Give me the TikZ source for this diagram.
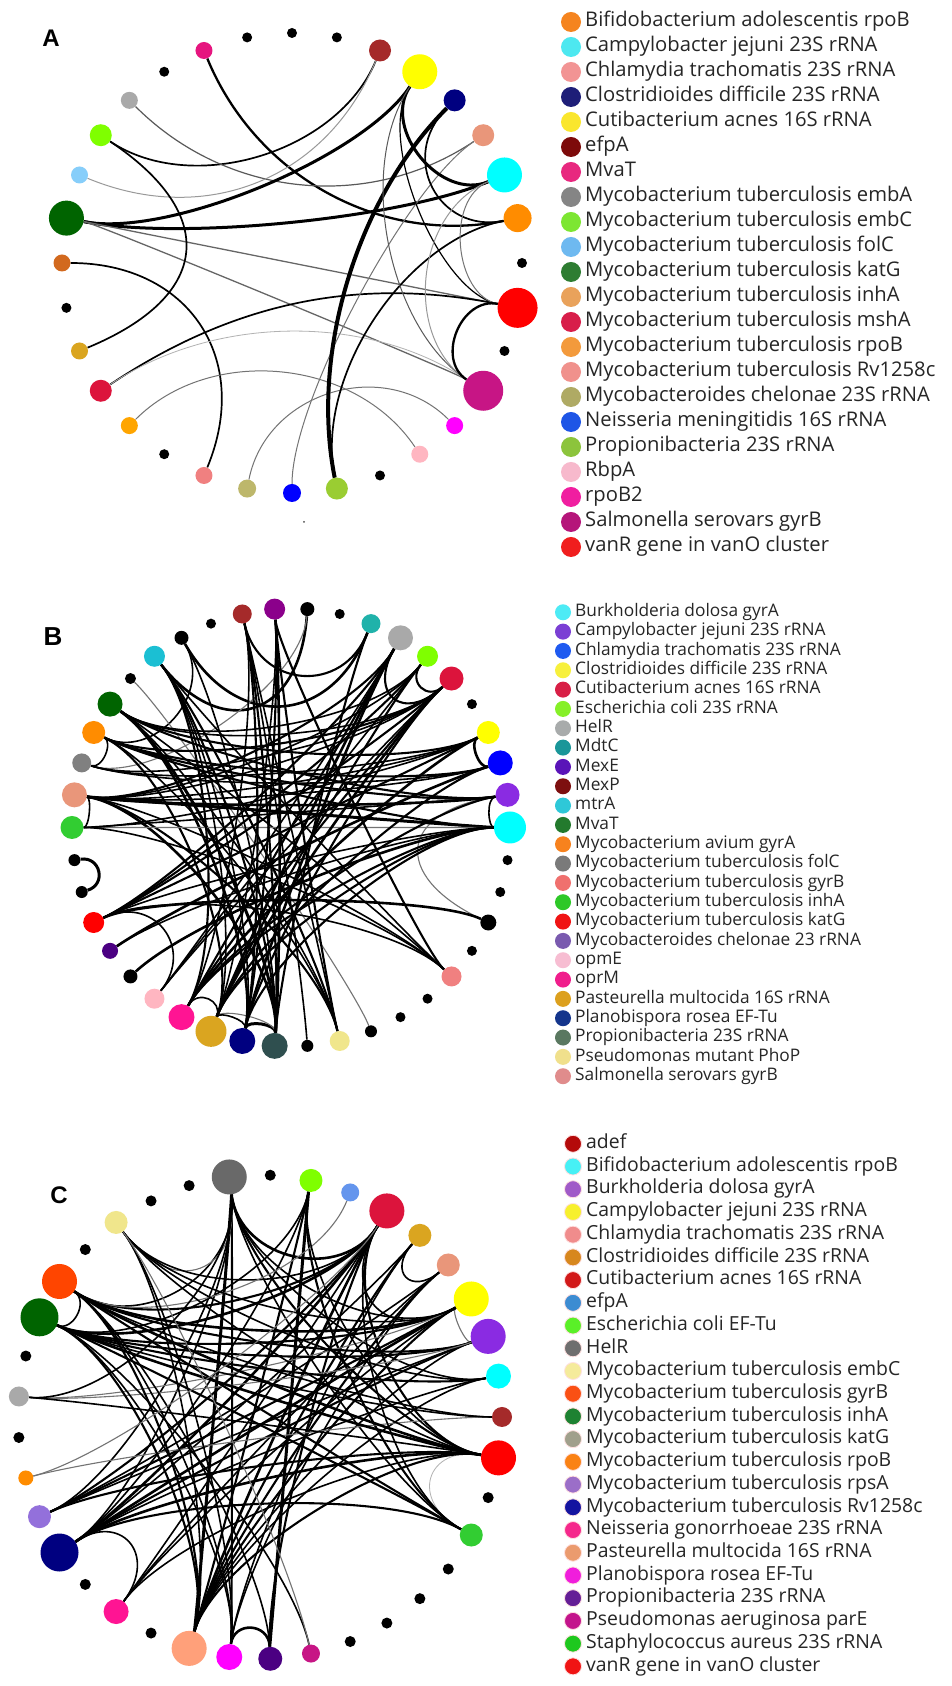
\documentclass[tikz,border=0pt]{standalone}
\usepackage{fontspec}
\newfontfamily\lgf{Open Sans}
\newfontfamily\lbf{Liberation Sans}
\usetikzlibrary{calc}
\pgfdeclarelayer{bg}
\pgfsetlayers{bg,main}
\def\ctrname{cA}
\newcommand\edg[4][0.4]{\draw[#2] (#3) .. controls ($(#3)!#1!(\ctrname)$) and ($(#4)!#1!(\ctrname)$) .. (#4);}
\begin{document}
\begin{tikzpicture}[x=1pt,y=1pt,
  bub/.style={circle,inner sep=0pt,draw=none},
  l0/.style={line width=0.8pt,black!30},
  l1/.style={line width=1pt,black!55},
  l2/.style={line width=1.2pt,black},
  l3/.style={line width=1.7pt,black},
  l4/.style={line width=2.3pt,black},
  l5/.style={line width=3pt,black},
  l6/.style={line width=4pt,black},
  lgA/.style={anchor=west,inner sep=0pt,text=black!85,text height=14pt,text depth=4pt,font=\lgf\fontsize{20.2}{24}\selectfont},
  lgB/.style={anchor=west,inner sep=0pt,text=black!85,text height=12pt,text depth=3.5pt,font=\lgf\fontsize{17.3}{20}\selectfont},
  lgC/.style={anchor=west,inner sep=0pt,text=black!85,text height=13.5pt,text depth=4pt,font=\lgf\fontsize{19.4}{22}\selectfont},
  plab/.style={inner sep=0pt,font=\lbf\bfseries\fontsize{24}{24}\selectfont}]
\useasboundingbox (0,0) rectangle (952,1686);
\begin{pgfonlayer}{bg}
\fill[white] (0,0) rectangle (952,1686);
\end{pgfonlayer}
\coordinate (cA) at (292,1423);
\coordinate (cB) at (291,858.5);
\coordinate (cC) at (260,269);
% ---------------- panel A nodes
\foreach \kk/\col/\dm in {0/000000/10,1/000000/10,2/A52A2A/22,3/FFFF00/35,4/000080/22,5/E9967A/22,6/00FFFF/35,7/FF8C00/28,8/000000/10,9/FF0000/40,10/000000/10,11/C71585/40,12/FF00FF/17,13/FFB6C1/17,14/000000/10,15/9ACD32/22,16/0000FF/18,17/BDB76B/18,18/F08080/17,19/000000/10,20/FFA500/17,21/DC143C/22,22/DAA520/17,23/000000/10,24/D2691E/17,25/006400/35,26/87CEFA/17,27/7FFF00/22,28/A9A9A9/17,29/000000/10,30/E6157F/17,31/000000/10}
{\definecolor{tmpc}{HTML}{\col}\node[bub,fill=tmpc,minimum size=\dm pt] (A\kk) at ($(cA)+({90-11.25*\kk}:230)$) {};}
\node[bub,fill=black!70,minimum size=2pt] (Aspk) at (304,1164) {};
\node[plab] (labA) at (51,1648) {A};
% ---------------- panel B nodes
\foreach \kk/\col/\dm in {0/00FFFF/32,1/8A2BE2/24,2/0000FF/25,3/FFFF00/23,4/000000/10,5/DC143C/24,6/7FFF00/21,7/A9A9A9/25,8/20B2AA/19,9/000000/10,10/000000/14,11/8B008B/21,12/A52A2A/19,13/000000/10,14/000000/14,15/1BBFD3/21,16/000000/11,17/006400/25,18/FF8C00/23,19/808080/19,20/E9967A/25,21/32CD32/23,22/000000/12,23/000000/12,24/FF0000/21,25/4B0082/16,26/000000/14,27/FFB6C1/20,28/FF1493/26,29/DAA520/31,30/000080/26,31/2F4F4F/26,32/000000/12,33/F0E68C/20,34/000000/12,35/000000/10,36/000000/10,37/F08080/20,38/000000/10,39/000000/16,40/000000/10,41/000000/10}
{\definecolor{tmpc}{HTML}{\col}\node[bub,fill=tmpc,minimum size=\dm pt] (B\kk) at ($(cB)+({8.5714*\kk}:219)$) {};}
\node[plab,font=\lbf\bfseries\fontsize{26}{26}\selectfont] (labB) at (53,1049) {B};
% ---------------- panel C nodes
\foreach \kk/\col/\dm in {0/A52A2A/20,1/00FFFF/25,2/8A2BE2/35,3/FFFF00/35,4/E9967A/23,5/DAA520/23,6/DC143C/35,7/6495ED/18,8/7FFF00/23,9/000000/11,10/696969/35,11/000000/11,12/000000/11,13/F0E68C/23,14/000000/11,15/FF4500/35,16/006400/38,17/000000/11,18/A9A9A9/20,19/000000/11,20/FF8C00/15,21/9370DB/23,22/000080/38,23/000000/11,24/FF1493/25,25/000000/11,26/FFA07A/35,27/FF00FF/26,28/4B0082/24,29/C71585/18,30/000000/11,31/000000/11,32/000000/11,33/000000/11,34/32CD32/23,35/000000/11,36/FF0000/35}
{\definecolor{tmpc}{HTML}{\col}\node[bub,fill=tmpc,minimum size=\dm pt] (C\kk) at ($(cC)+({9.7297*\kk}:242)$) {};}
\node[plab] (labC) at (59,491) {C};
% ---------------- edges
\begin{pgfonlayer}{bg}
\def\ctrname{cA}
\edg[0.6]{l4}{A30}{A7}
\edg[0.48]{l3}{A2}{A27}
\edg[0.6]{l1,line width=1.2pt,black!65}{A28}{A5}
\edg[0.6]{l0,line width=1pt,black!40}{A26}{A2}
\edg[0.45]{l5}{A3}{A25}
\edg[0.5]{l5}{A25}{A6}
\edg[0.15]{l1,line width=1.3pt,black!60}{A25}{A9}
\edg[0.15]{l1,line width=1.3pt,black!60}{A25}{A11}
\edg[0.62]{l3}{A27}{A22}
\edg[0.55]{l3}{A24}{A18}
\edg[0.7]{l3}{A21}{A9}
\edg[0.5]{l1}{A20}{A13}
\edg[0.6]{l0}{A21}{A11}
\edg[0.43]{l1}{A17}{A12}
\edg[0.4]{l1}{A16}{A5}
\edg[0.6]{l6}{A15}{A4}
\edg[0.5]{l3}{A15}{A7}
\edg[0.3]{l5}{A3}{A6}
\edg[0.35]{l2}{A3}{A9}
\edg[0.5]{l1,black!65}{A3}{A11}
\edg[0.35]{l3}{A4}{A7}
\edg[0.42]{l0,line width=1pt,black!40}{A6}{A11}
\edg[0.28]{l1}{A6}{A9}
\edg[0.25]{l4}{A9}{A11}
% heavier strokes in the dense panels
\tikzset{l2/.style={line width=1.6pt,black},l3/.style={line width=2.1pt,black},l4/.style={line width=2.6pt,black},l1/.style={line width=1.1pt,black!55}}
\def\ctrname{cB}
\edg[0.12]{l5}{B22}{B23}
\edg[0.08]{l2}{B20}{B21}
\edg[0.1]{l2}{B18}{B19}
\edg[0.1]{l5}{B30}{B31}
\edg[0.12]{l1}{B29}{B31}
\edg[0.1]{l2}{B29}{B30}
\edg[0.15]{l2}{B28}{B29}
\edg[0.1]{l2}{B0}{B1}
\edg[0.1]{l4}{B2}{B3}
\edg[0.15]{l3}{B5}{B6}
\edg[0.3]{l3}{B7}{B5}
\edg[0.5]{l4}{B14}{B8}
\edg[0.5]{l4}{B10}{B15}
\edg[0.35]{l3}{B12}{B8}
\edg[0.3]{l2}{B14}{B18}
\edg[0.35]{l1}{B10}{B19}
\edg[0.25]{l1}{B16}{B34}
\edg[0.5]{l1}{B39}{B1}
\edg[0.3]{l2}{B24}{B27}
\edg{l5}{B17}{B31}
\edg{l4}{B17}{B30}
\edg{l3}{B17}{B3}
\edg{l2}{B17}{B33}
\edg{l2}{B17}{B37}
\edg{l3}{B18}{B1}
\edg{l3}{B18}{B2}
\edg{l3}{B18}{B29}
\edg{l2}{B18}{B33}
\edg{l3}{B18}{B0}
\edg[0.1]{l5}{B20}{B0}
\edg{l4}{B20}{B1}
\edg{l4}{B20}{B31}
\edg{l3}{B20}{B33}
\edg{l2}{B20}{B3}
\edg{l2}{B20}{B37}
\edg[0.02]{l1}{B21}{B0}
\edg[0.1]{l2}{B21}{B1}
\edg{l2}{B21}{B37}
\edg{l2}{B19}{B5}
\edg{l3}{B24}{B6}
\edg{l3}{B24}{B5}
\edg{l3}{B24}{B7}
\edg{l3}{B24}{B3}
\edg[0.3]{l4}{B24}{B39}
\edg{l2}{B24}{B37}
\edg{l2}{B24}{B0}
\edg{l4}{B25}{B2}
\edg{l4}{B26}{B0}
\edg{l2}{B27}{B6}
\edg{l2}{B27}{B5}
\edg{l4}{B28}{B3}
\edg{l3}{B28}{B1}
\edg{l3}{B28}{B7}
\edg{l2}{B28}{B12}
\edg{l4}{B29}{B5}
\edg{l3}{B29}{B6}
\edg{l4}{B29}{B7}
\edg{l3}{B29}{B0}
\edg{l3}{B29}{B2}
\edg{l2}{B29}{B15}
\edg{l4}{B30}{B7}
\edg{l3}{B30}{B5}
\edg{l3}{B30}{B11}
\edg{l3}{B30}{B12}
\edg{l3}{B30}{B0}
\edg{l2}{B30}{B15}
\edg{l4}{B31}{B11}
\edg{l3}{B31}{B12}
\edg{l3}{B31}{B15}
\edg{l3}{B31}{B8}
\edg{l2}{B31}{B14}
\edg{l2}{B32}{B12}
\edg{l3}{B33}{B15}
\edg{l3}{B33}{B11}
\edg{l2}{B33}{B12}
\edg[0.2]{l3}{B37}{B11}
\edg{l2}{B37}{B15}
\edg{l2}{B11}{B29}
\edg{l3}{B15}{B28}
\edg{l2}{B7}{B27}
\edg{l3}{B7}{B20}
\edg{l2}{B6}{B20}
\edg{l2}{B6}{B17}
\edg{l3}{B5}{B18}
\edg{l2}{B5}{B17}
\edg{l2}{B5}{B20}
\edg{l3}{B5}{B28}
\edg{l2}{B3}{B21}
\edg{l2}{B3}{B19}
\edg{l2}{B2}{B19}
\edg{l2}{B2}{B20}
\edg{l3}{B1}{B17}
\edg{l3}{B0}{B28}
\edg{l2}{B0}{B25}
\def\ctrname{cC}
\edg[0.15]{l2}{C15}{C16}
\edg[0.15]{l4}{C27}{C28}
\edg[0.2]{l2}{C5}{C4}
\edg[0.1]{l1}{C3}{C2}
\edg[0.35]{l4}{C10}{C6}
\edg[0.3]{l0}{C36}{C34}
\edg[0.3]{l2}{C22}{C24}
\edg[0.1]{l5}{C10}{C26}
\edg[0.1]{l3}{C10}{C27}
\edg{l3}{C10}{C36}
\edg{l2}{C10}{C34}
\edg{l2}{C10}{C22}
\edg{l2}{C10}{C15}
\edg{l1}{C10}{C13}
\edg{l2}{C10}{C3}
\edg{l2}{C10}{C1}
\edg{l2}{C10}{C21}
\edg{l4}{C6}{C16}
\edg{l3}{C6}{C15}
\edg{l4}{C6}{C22}
\edg{l4}{C6}{C26}
\edg{l3}{C6}{C21}
\edg{l3}{C6}{C28}
\edg{l3}{C6}{C36}
\edg{l2}{C6}{C3}
\edg{l2}{C6}{C24}
\edg{l2}{C6}{C13}
\edg[0.05]{l5}{C8}{C28}
\edg{l3}{C8}{C26}
\edg{l3}{C8}{C34}
\edg{l2}{C8}{C22}
\edg{l2}{C8}{C16}
\edg{l1}{C7}{C15}
\edg{l3}{C5}{C26}
\edg{l2}{C5}{C22}
\edg{l2}{C5}{C27}
\edg{l2}{C4}{C21}
\edg{l3}{C4}{C26}
\edg{l2}{C4}{C24}
\edg{l2}{C4}{C27}
\edg{l4}{C3}{C15}
\edg{l3}{C3}{C16}
\edg{l4}{C3}{C22}
\edg{l3}{C3}{C26}
\edg{l3}{C3}{C21}
\edg{l1}{C3}{C18}
\edg{l2}{C3}{C13}
\edg{l2}{C3}{C24}
\edg{l3}{C2}{C16}
\edg{l3}{C2}{C15}
\edg{l3}{C2}{C22}
\edg{l2}{C2}{C21}
\edg{l2}{C2}{C26}
\edg{l1}{C2}{C18}
\edg{l3}{C1}{C16}
\edg{l2}{C1}{C22}
\edg{l2}{C1}{C13}
\edg{l2}{C1}{C26}
\edg{l2}{C0}{C16}
\edg{l1}{C0}{C20}
\edg{l2}{C0}{C15}
\edg{l4}{C36}{C16}
\edg{l4}{C36}{C15}
\edg{l4}{C36}{C22}
\edg{l3}{C36}{C21}
\edg{l3}{C36}{C26}
\edg{l2}{C36}{C13}
\edg{l2}{C36}{C18}
\edg{l2}{C36}{C24}
\edg{l2}{C36}{C8}
\edg{l3}{C34}{C15}
\edg{l3}{C34}{C16}
\edg{l3}{C34}{C22}
\edg{l2}{C34}{C6}
\edg{l3}{C26}{C15}
\edg{l3}{C26}{C16}
\edg{l2}{C26}{C13}
\edg{l2}{C27}{C13}
\edg{l2}{C27}{C15}
\edg{l2}{C27}{C16}
\edg{l2}{C28}{C15}
\edg{l2}{C29}{C16}
\edg{l1}{C29}{C13}
\edg{l1}{C20}{C6}
\edg{l2}{C18}{C10}
\end{pgfonlayer}
% ---------------- legends
\foreach \col/\txt [count=\i from 0] in {F5841F/Bifidobacterium adolescentis rpoB,4DE8F0/Campylobacter jejuni 23S rRNA,F29494/Chlamydia trachomatis 23S rRNA,1E1E78/Clostridioides difficile 23S rRNA,FAE62D/Cutibacterium acnes 16S rRNA,7D0A0A/efpA,E8287F/MvaT,858585/Mycobacterium tuberculosis embA,7DE632/Mycobacterium tuberculosis embC,6EB9F0/Mycobacterium tuberculosis folC,2E7D32/Mycobacterium tuberculosis katG,E9A25B/Mycobacterium tuberculosis inhA,D81E4A/Mycobacterium tuberculosis mshA,F39A3C/Mycobacterium tuberculosis rpoB,F0918C/Mycobacterium tuberculosis Rv1258c,AFAA64/Mycobacteroides chelonae 23S rRNA,1E55E6/Neisseria meningitidis 16S rRNA,8CC43C/Propionibacteria 23S rRNA,F7B9CC/RbpA,F01EA0/rpoB2,B5157A/Salmonella serovars gyrB,F01E1E/vanR gene in vanO cluster}
{\definecolor{tmpc}{HTML}{\col}
 \node[bub,fill=tmpc,minimum size=20pt] (LA\i) at (571,1664-25*\i) {};
 \node[lgA] (LAt\i) at (585,1664-25*\i) {\txt};}
\foreach \col/\txt [count=\i from 0] in {4DEBF5/Burkholderia dolosa gyrA,7B3FD4/Campylobacter jejuni 23S rRNA,1F5AF0/Chlamydia trachomatis 23S rRNA,F7F03C/Clostridioides difficile 23S rRNA,D81F46/Cutibacterium acnes 16S rRNA,86F028/Escherichia coli 23S rRNA,A8ABAB/HelR,1A9699/MdtC,5A14B8/MexE,7D0F0F/MexP,2EC8D8/mtrA,237A2D/MvaT,F7821E/Mycobacterium avium gyrA,7A7A7A/Mycobacterium tuberculosis folC,F0706E/Mycobacterium tuberculosis gyrB,2EC828/Mycobacterium tuberculosis inhA,F01414/Mycobacterium tuberculosis katG,7A5AAF/Mycobacteroides chelonae 23 rRNA,F7BDD2/opmE,F01E8C/oprM,DCA01E/Pasteurella multocida 16S rRNA,14358C/Planobispora rosea EF-Tu,5A7860/Propionibacteria 23S rRNA,F0E08C/Pseudomonas mutant PhoP,E08C8C/Salmonella serovars gyrB}
{\definecolor{tmpc}{HTML}{\col}
 \node[bub,fill=tmpc,minimum size=16pt] (LB\i) at (563,1073.7-19.33*\i) {};
 \node[lgB] (LBt\i) at (575,1073.7-19.33*\i) {\txt};}
\foreach \col/\txt [count=\i from 0] in {B40A0A/adef,46F0F5/Bifidobacterium adolescentis rpoB,A05AC8/Burkholderia dolosa gyrA,F7F02D/Campylobacter jejuni 23S rRNA,F08C8C/Chlamydia trachomatis 23S rRNA,D7871E/Clostridioides difficile 23S rRNA,D21919/Cutibacterium acnes 16S rRNA,3C8CD2/efpA,5AF028/Escherichia coli EF-Tu,6E6E6E/HelR,F5EB9B/Mycobacterium tuberculosis embC,FA5014/Mycobacterium tuberculosis gyrB,1E8232/Mycobacterium tuberculosis inhA,A0A08C/Mycobacterium tuberculosis katG,FA8214/Mycobacterium tuberculosis rpoB,9B6EC8/Mycobacterium tuberculosis rpsA,1414A0/Mycobacterium tuberculosis Rv1258c,F5288C/Neisseria gonorrhoeae 23S rRNA,EB9B6E/Pasteurella multocida 16S rRNA,F01EDC/Planobispora rosea EF-Tu,641E96/Propionibacteria 23S rRNA,C3148C/Pseudomonas aeruginosa parE,1EC81E/Staphylococcus aureus 23S rRNA,F01414/vanR gene in vanO cluster}
{\definecolor{tmpc}{HTML}{\col}
 \node[bub,fill=tmpc,draw=red!12,line width=0.8pt,minimum size=17pt] (LC\i) at (573,542.2-22.72*\i) {};
 \node[lgC] (LCt\i) at (586,542.2-22.72*\i) {\txt};}
\end{tikzpicture}
\end{document}
